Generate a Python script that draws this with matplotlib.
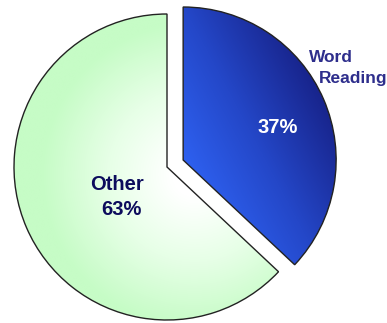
import numpy as np
import matplotlib.pyplot as plt
from matplotlib.colors import LinearSegmentedColormap

labels = ["Word Reading", "Other"]
shares = [37, 63]
explode = [0.115, 0]

fig = plt.figure(figsize=(3.87, 3.23), dpi=100)
ax = fig.add_axes([0, 0, 1, 1])

wedges, _ = ax.pie(
    shares,
    explode=explode,
    startangle=90,
    counterclock=False,
    radius=1,
    wedgeprops=dict(facecolor="none", edgecolor="#222222", linewidth=1.0),
)
for w in wedges:
    w.set_zorder(3)

# gradient fills clipped to the wedges
xs = np.linspace(-1.2, 1.3, 500)
ys = np.linspace(-1.1, 1.2, 460)
X, Y = np.meshgrid(xs, ys)

# blue: linear, bright lower-left -> dark upper-right
ang = np.deg2rad(28)
t = (X - 0.1) * np.cos(ang) + (Y + 0.05) * np.sin(ang)
t = np.clip(t / 1.05, 0, 1)
blue_cmap = LinearSegmentedColormap.from_list("b", ["#2f63f4", "#2447c8", "#18248c"])
im = ax.imshow(t, cmap=blue_cmap, extent=(xs[0], xs[-1], ys[0], ys[-1]),
               origin="lower", zorder=1, aspect="auto")
im.set_clip_path(wedges[0])

# green: radial, white near centre -> pale green rim
d = np.hypot(X - 0.18, Y + 0.05)
d = np.clip((d - 0.15) / 0.85, 0, 1)
green_cmap = LinearSegmentedColormap.from_list("g", ["#ffffff", "#e6ffe6", "#c6fcc6"])
im2 = ax.imshow(d, cmap=green_cmap, extent=(xs[0], xs[-1], ys[0], ys[-1]),
                origin="lower", zorder=1, aspect="auto")
im2.set_clip_path(wedges[1])

r = 153.0
cx, cy = 167.0, 167.0
def px(x, y):
    return ((x - cx) / r, (cy - y) / r)

ax.text(*px(331, 58), "Word", ha="center", va="center", fontsize=12.5,
        fontweight="bold", color="#2e2e8c", family="Liberation Sans", zorder=5)
ax.text(*px(353, 79), "Reading", ha="center", va="center", fontsize=12.5,
        fontweight="bold", color="#2e2e8c", family="Liberation Sans", zorder=5)
ax.text(*px(278, 128), f"{shares[0]}%", ha="center", va="center", fontsize=14.5,
        fontweight="bold", color="white", family="Liberation Sans", zorder=5)
ax.text(*px(117, 185), "Other", ha="center", va="center", fontsize=14.5,
        fontweight="bold", color="#0c0c5c", family="Liberation Sans", zorder=5)
ax.text(*px(121, 210), f"{shares[1]}%", ha="center", va="center", fontsize=14.5,
        fontweight="bold", color="#0c0c5c", family="Liberation Sans", zorder=5)

ax.set_xlim(-cx / r, (387 - cx) / r)
ax.set_ylim((cy - 323) / r, cy / r)
ax.set_aspect("auto")
ax.axis("off")

fig.savefig("out.png", dpi=100)
